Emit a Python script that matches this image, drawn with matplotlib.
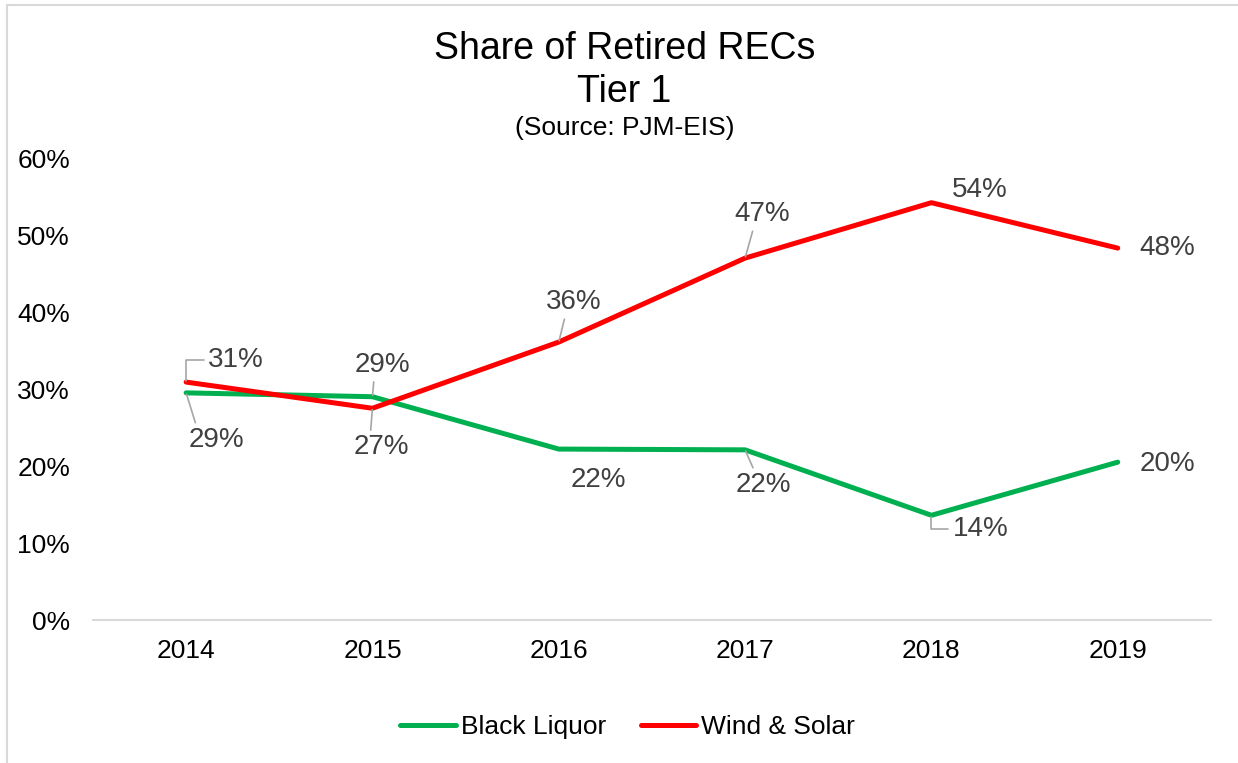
import matplotlib.pyplot as plt
from matplotlib.ticker import FuncFormatter

plt.rcParams['font.family'] = ['Liberation Sans', 'DejaVu Sans']

years = ['2014', '2015', '2016', '2017', '2018', '2019']
black_liquor = [29.5, 29.0, 22.2, 22.1, 13.6, 20.5]
wind_solar = [30.9, 27.5, 36.1, 47.0, 54.2, 48.3]
bl_labels = ['29%', '29%', '22%', '22%', '14%', '20%']
ws_labels = ['31%', '27%', '36%', '47%', '54%', '48%']

fig = plt.figure(figsize=(12.38, 7.63), dpi=100)
ax = fig.add_axes([0.0751, 0.1874, 0.903, 0.6055])

# outer frame like the excel chart area
fig.add_artist(plt.Line2D([0.0057, 0.0057], [0, 0.9935], color='#D9D9D9', lw=1.5))
fig.add_artist(plt.Line2D([0.0057, 1], [0.9935, 0.9935], color='#D9D9D9', lw=1.5))

x = range(len(years))
ax.plot(x, black_liquor, color='#00B050', lw=3.6, label='Black Liquor', solid_capstyle='round')
ax.plot(x, wind_solar, color='#FF0000', lw=3.6, label='Wind & Solar', solid_capstyle='round')

ax.set_xlim(-0.5, 5.5)
ax.set_ylim(0, 60)
ax.set_yticks(range(0, 61, 10))
ax.yaxis.set_major_formatter(FuncFormatter(lambda v, p: '%d%%' % v))
ax.set_xticks(list(x))
ax.set_xticklabels(years)
for s in ['top', 'right', 'left']:
    ax.spines[s].set_visible(False)
ax.spines['bottom'].set_color('#D9D9D9')
ax.spines['bottom'].set_linewidth(1.5)
ax.tick_params(axis='both', length=0, labelsize=19, labelcolor='black')
ax.tick_params(axis='y', pad=16.5)
ax.tick_params(axis='x', pad=14)

# label offsets (pixels), leader relpos, connection style
bl_off = [(30, -47, (0.15, 1.0), None), (10, 32, (0.35, 0.0), None),
          (40, -31, None, None), (18, -35, (0.35, 1.0), None),
          (49, -14, (0.0, 0.5), 'angle,angleA=0,angleB=90,rad=0'), (50, -2, None, None)]
ws_off = [(50, 22, (0.0, 0.5), 'angle,angleA=0,angleB=90,rad=0'), (9, -39, (0.3, 1.0), None),
          (15, 40, (0.35, 0.0), None), (17, 44, (0.35, 0.0), None),
          (48, 13, None, None), (50, 0, None, None)]

def put_labels(vals, labs, offs):
    for i, (v, t, o) in enumerate(zip(vals, labs, offs)):
        dx, dy, rp, cs = o
        kw = {}
        if rp is not None:
            ap = dict(arrowstyle='-', color='#A6A6A6', lw=1.2, relpos=rp, shrinkA=1, shrinkB=1)
            if cs:
                ap['connectionstyle'] = cs
            kw['arrowprops'] = ap
        ax.annotate(t, (i, v), xytext=(dx, dy), textcoords='offset pixels',
                    ha='center', va='center', fontsize=20, color='#404040', **kw)

put_labels(black_liquor, bl_labels, bl_off)
put_labels(wind_solar, ws_labels, ws_off)

fig.text(0.5045, 0.936, 'Share of Retired RECs', ha='center', va='center', fontsize=27)
fig.text(0.5045, 0.880, 'Tier 1', ha='center', va='center', fontsize=27)
fig.text(0.5045, 0.832, '(Source: PJM-EIS)', ha='center', va='center', fontsize=19)

fig.legend(loc='center', bbox_to_anchor=(0.507, 0.047), ncol=2, frameon=False,
           fontsize=19, handlelength=2.1, handletextpad=0.2, columnspacing=1.3)

fig.savefig('out.png', dpi=100)
